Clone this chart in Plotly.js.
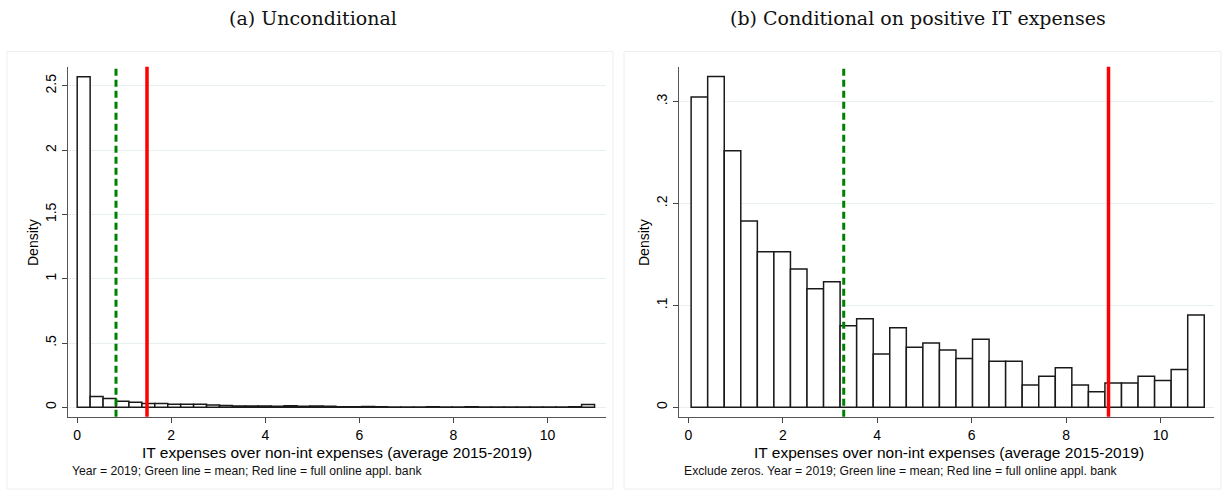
<!DOCTYPE html>
<html>
<head>
<meta charset="utf-8">
<script src="https://cdn.plot.ly/plotly-3.0.1.min.js"></script>
<style>
html,body{margin:0;padding:0;background:#fff;}
#chart{width:1225px;height:494px;}
</style>
</head>
<body>
<div id="chart"></div>
<script>
// ---- Data ----
// Panel (a): unconditional, 40 bins of width 0.275 starting at 0
const leftBinStart = 0;
const leftBinWidth = 0.275;
const leftDensity = [2.57, 0.085, 0.068, 0.047, 0.040, 0.030, 0.030, 0.024, 0.024, 0.024,
                     0.018, 0.015, 0.010, 0.010, 0.010, 0.008, 0.012, 0.008, 0.010, 0.008,
                     0.004, 0.004, 0.006, 0.004, 0.003, 0.002, 0.002, 0.004, 0.002, 0.002,
                     0.004, 0.002, 0.002, 0.003, 0.002, 0.002, 0.002, 0.003, 0.004, 0.022];
const leftMean = 0.825;
const leftOnlineBank = 1.484;

// Panel (b): positive IT expenses only, 31 bins of width 0.3507 starting at 0.057
const rightBinStart = 0.057;
const rightBinWidth = 0.3507;
const rightDensity = [0.3045, 0.3245, 0.2518, 0.1828, 0.1527, 0.1527, 0.1357, 0.1164, 0.1233, 0.0801,
                      0.0870, 0.0523, 0.0781, 0.0589, 0.0631, 0.0562, 0.0478, 0.0667, 0.0451, 0.0451,
                      0.0219, 0.0304, 0.0389, 0.0219, 0.0154, 0.0239, 0.0239, 0.0304, 0.0262, 0.0372,
                      0.0906];
const rightMean = 3.29;
const rightOnlineBank = 8.90;

const xTickVals = [0, 2, 4, 6, 8, 10];
const xTickText = ['0', '2', '4', '6', '8', '10'];
const leftYTickVals = [0, 0.5, 1, 1.5, 2, 2.5];
const leftYTickText = ['0', '.5', '1', '1.5', '2', '2.5'];
const rightYTickVals = [0, 0.1, 0.2, 0.3];
const rightYTickText = ['0', '.1', '.2', '.3'];

const panelTitles = ['(a) Unconditional', '(b) Conditional on positive IT expenses'];
const xTitle = 'IT expenses over non-int expenses (average 2015-2019)';
const yTitle = 'Density';
const notes = ['Year = 2019; Green line = mean; Red line = full online appl. bank',
               'Exclude zeros. Year = 2019; Green line = mean; Red line = full online appl. bank'];

// ---- Build ----
function centers(start, width, n) {
  const c = [];
  for (let i = 0; i < n; i++) c.push(start + width * (i + 0.5));
  return c;
}

const barStyle = {color: '#ffffff', line: {color: '#1a1a1a', width: 1.5}};

const traces = [
  {type: 'bar', x: centers(leftBinStart, leftBinWidth, leftDensity.length), y: leftDensity,
   width: leftBinWidth, marker: barStyle, xaxis: 'x', yaxis: 'y', hoverinfo: 'x+y', showlegend: false},
  {type: 'bar', x: centers(rightBinStart, rightBinWidth, rightDensity.length), y: rightDensity,
   width: rightBinWidth, marker: barStyle, xaxis: 'x2', yaxis: 'y2', hoverinfo: 'x+y', showlegend: false}
];

const tickFont = {family: 'Liberation Sans, Arial, sans-serif', size: 14, color: '#000'};
function xAxis(domain, range) {
  return {domain: domain, range: range, tickvals: xTickVals, ticktext: xTickText,
          ticks: 'outside', ticklen: 5, tickwidth: 1, tickcolor: '#444',
          showline: true, linecolor: '#555', linewidth: 1, showgrid: false, zeroline: false,
          tickfont: tickFont, fixedrange: true};
}
function yAxis(domain, range, tv, tt, anchor) {
  return {domain: domain, range: range, tickvals: tv, ticktext: tt, tickangle: -90,
          ticks: 'outside', ticklen: 5, tickwidth: 1, tickcolor: '#444',
          showline: true, linecolor: '#555', linewidth: 1, showgrid: true,
          gridcolor: '#e8f0f1', gridwidth: 1, zeroline: false,
          tickfont: tickFont, anchor: anchor, fixedrange: true};
}

const W = 1225, H = 494;
const px = v => v / W;
const py = v => 1 - v / H;

const yDom = [py(416.7), py(66.7)];
const titleFont = {family: 'DejaVu Serif, serif', size: 19, color: '#111'};
const noteFont = {family: 'Liberation Sans, Arial, sans-serif', size: 12.2, color: '#111'};
const axisTitleFont = {family: 'Liberation Sans, Arial, sans-serif', size: 15.5, color: '#000'};
const densFont = {family: 'Liberation Sans, Arial, sans-serif', size: 14, color: '#000'};

const layout = {
  width: W, height: H,
  margin: {l: 0, r: 0, t: 0, b: 0},
  paper_bgcolor: '#fff', plot_bgcolor: '#fff',
  barmode: 'overlay', bargap: 0,
  showlegend: false,
  xaxis: xAxis([px(67.7), px(605.6)], [-0.202, 11.235]),
  yaxis: yAxis(yDom, [-0.073, 2.649], leftYTickVals, leftYTickText, 'x'),
  xaxis2: Object.assign(xAxis([px(679), px(1214)], [-0.2, 11.135]), {anchor: 'y2'}),
  yaxis2: yAxis(yDom, [-0.0092, 0.3342], rightYTickVals, rightYTickText, 'x2'),
  shapes: [
    // panel frames
    {type: 'rect', xref: 'paper', yref: 'paper', x0: px(7), x1: px(613), y0: py(489), y1: py(51.5),
     line: {color: '#eeeeee', width: 1}, layer: 'below'},
    {type: 'rect', xref: 'paper', yref: 'paper', x0: px(624), x1: px(1221), y0: py(489), y1: py(51.5),
     line: {color: '#eeeeee', width: 1}, layer: 'below'},
    // mean (green dashed) and full online bank (red)
    {type: 'line', xref: 'x', yref: 'y domain', x0: leftMean, x1: leftMean, y0: 0, y1: 1,
     line: {color: '#008000', width: 3, dash: '7px,4px'}, layer: 'above'},
    {type: 'line', xref: 'x', yref: 'y domain', x0: leftOnlineBank, x1: leftOnlineBank, y0: 0, y1: 1,
     line: {color: '#ff0000', width: 3.5}, layer: 'above'},
    {type: 'line', xref: 'x2', yref: 'y2 domain', x0: rightMean, x1: rightMean, y0: 0, y1: 1,
     line: {color: '#008000', width: 3, dash: '7px,4px'}, layer: 'above'},
    {type: 'line', xref: 'x2', yref: 'y2 domain', x0: rightOnlineBank, x1: rightOnlineBank, y0: 0, y1: 1,
     line: {color: '#ff0000', width: 3.5}, layer: 'above'}
  ],
  annotations: [
    {text: panelTitles[0], xref: 'paper', yref: 'paper', x: px(313), y: py(18), xanchor: 'center', yanchor: 'middle',
     showarrow: false, font: titleFont},
    {text: panelTitles[1], xref: 'paper', yref: 'paper', x: px(918), y: py(18), xanchor: 'center', yanchor: 'middle',
     showarrow: false, font: titleFont},
    {text: xTitle, xref: 'paper', yref: 'paper', x: px(337), y: py(452), xanchor: 'center', yanchor: 'middle',
     showarrow: false, font: axisTitleFont},
    {text: xTitle, xref: 'paper', yref: 'paper', x: px(949), y: py(452), xanchor: 'center', yanchor: 'middle',
     showarrow: false, font: axisTitleFont},
    {text: yTitle, xref: 'paper', yref: 'paper', x: px(33), y: py(243), xanchor: 'center', yanchor: 'middle',
     textangle: -90, showarrow: false, font: densFont},
    {text: yTitle, xref: 'paper', yref: 'paper', x: px(644), y: py(243), xanchor: 'center', yanchor: 'middle',
     textangle: -90, showarrow: false, font: densFont},
    {text: notes[0], xref: 'paper', yref: 'paper', x: px(70), y: py(471), xanchor: 'left', yanchor: 'middle',
     showarrow: false, font: noteFont},
    {text: notes[1], xref: 'paper', yref: 'paper', x: px(682), y: py(471), xanchor: 'left', yanchor: 'middle',
     showarrow: false, font: noteFont}
  ]
};

Plotly.newPlot('chart', traces, layout, {displayModeBar: false, staticPlot: true});
</script>
</body>
</html>
